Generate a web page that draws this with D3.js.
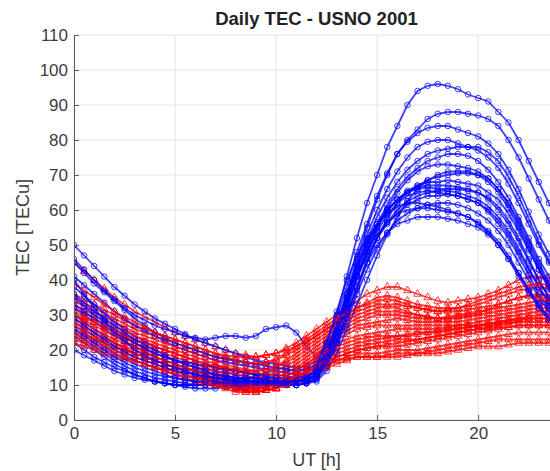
<!DOCTYPE html>
<html>
<head>
<meta charset="utf-8">
<script src="https://cdn.jsdelivr.net/npm/d3@7/dist/d3.min.js"></script>
<style>
body { margin: 0; background: #fff; }
svg { display: block; font-family: "Liberation Sans", Arial, sans-serif; }
</style>
</head>
<body>
<svg id="chart" width="550" height="471"></svg>
<script>
// UT sampling (hours)
let ut = [0,0.5,1,1.5,2,2.5,3,3.5,4,4.5,5,5.5,6,6.5,7,7.5,8,8.5,9,9.5,10,10.5,11,11.5,12,12.5,13,13.5,14,14.5,15,15.5,16,16.5,17,17.5,18,18.5,19,19.5,20,20.5,21,21.5,22,22.5,23,23.5,24];
let xTicks = [0, 5, 10, 15, 20];
let yTicks = [0, 10, 20, 30, 40, 50, 60, 70, 80, 90, 100, 110];

// blue days
let blue01 = [50,47,44,41,38,35.5,33,31,29,27.5,26,24.5,23,22,21,20,19,18,17,16.5,16,15.5,15,15.5,17,23,30,41,52,62,70,78,84,90,94,95.5,96,95.5,94.5,93,92,91,88,85,80,74,68,62,56];
let blue02 = [46,43,40,37,34.5,32,30,28.5,27,26,25,24,23.5,23,23.5,24,24,23.5,24,26,26.5,27,25,21,18,21,27,36,46,55,63,70,76,80,83,86,87.5,88,88,87.5,87,86,84,80,75,69,63,57,51];
let blue03 = [41,38.5,36,33.5,31,29,27,25.5,24,22.5,21,20,19,18,17,16.5,16,15.5,15,14.5,14,13.5,13,13.5,15,20,27,36,45,53,60,66,71,75,78,79.5,80,80,79,78,77,75,72,67.5,62,56,50,45,40];
let blue04 = [38,35.5,33,30.5,28,26,24,22.5,21,20,19,18,17,16,15,14.5,14,13.5,13,13,13,12.5,12,12.5,14,19,26,34,43,50,56,61.5,66,69.5,72,74,75,76,76,75.5,74,71.5,68,63.5,58,52,46,41,36];
let blue05 = [35,32.5,30,28,26,24,22,20.5,19,18,17,16,15,14.5,14,13.5,13,12.5,12,12,12,11.5,11,11.5,13,18,25,33,41,49,55,59.5,63,65.5,67,68,68,68.5,68,67.5,67,65,63,59,54,48.5,43,38,33];
let blue06 = [32,30,28,26,24,22.5,21,19.5,18,17,16,15,14,13.5,13,12.5,12,12,12,11.5,11,11,11,11.5,13.5,19,27,36,44,51,56,60,63,65,66,66.5,66,66,66,65.5,65,63.5,61,57,52,46,40,35,31];
let blue07 = [30,28,26,24,22,20.5,19,18,17,16,15,14.5,14,13.5,13,12.5,12,12,12,11.5,11,11,11,11,12.5,17,24,32,41,48,54,58.5,62,64,65,65.5,65,64.5,64,63,62,60,57,53,48,43,38,34,30];
let blue08 = [28,26,24,22,20,18.5,17,16,15,14,13,12.5,12,12,12,11.5,11,11,11,11,11,10.5,10,10.5,12,16,22,30,38,46,52,56.5,60,62.5,64,65,65.5,65.5,65,64,63,61,58,54,49,43.5,38,33,29];
let blue09 = [27,25,23,21,19,17.5,16,15,14,13,12,11.5,11,10.5,10,10,10,10,10,10,10,10,10,10.5,11.5,15,21,28,36,43,49,53.5,57,59,60.5,61.5,62,62,61.5,60.5,59,57,54,50,45,40,35,31,27];
let blue10 = [25,23,21,19,17,15.5,14,13,12,11.5,11,10.5,10,10,10,9.5,9.5,9.5,10,10,10,10,10,10.5,12,16,22,30,38,45,50,53.5,56,57,58,58,58,57.5,57,56,55,53,50,46,42,37.5,33,29,26];
let blue11 = [24,22,20,18,16,14.5,13,12,11,10.5,10,9.5,9,9,9,9.5,10,10,10,10,10,10,10,11,13,18,25,33,41,47,52,56,59,61.5,63,64,64,64.5,64,63,62,59.5,56,52,47,41.5,36,32,28];
let blue12 = [22,20,18,16.5,15,14,13,12,11,10.5,10,10,10,10,10,9.5,9,9,9,9.5,10,10,10,10.5,11,14,19,26,33,40,47,53,58,62.5,66,68.5,70,71,71,71,70,68,65,60.5,55,49,43,37.5,32];
let blue13 = [45,42,39,36.5,34,31.5,29,27,25,23.5,22,21,20,19,18,17.5,17,16.5,16,15.5,15,14.5,14,14.5,16,22,29,38,48,56,64,70.5,76,79.5,82,83.5,84,84,83,82,81,79,76,71.5,66,59.5,53,47.5,42];
let blue14 = [33,31,29,27,25,23.5,22,20.5,19,18,17,16.5,16,15.5,15,14.5,14,13.5,13,12.5,12,12,12,12.5,14,19,26,35,44,51.5,58,63.5,68,71.5,74,76,77,77.5,78,78,78,76.5,74,69.5,64,57.5,51,45.5,40];
let blue15 = [20,18.5,17,15.5,14,13,12,11.5,11,10.5,10,10,10,10,10.5,11,11,11,11,10.5,10,10.5,11,12,14,20,27,35,42,48,53,56.5,59,60,60.5,60.5,60,59.5,59,58,56,53.5,50,46,41,36.5,32,28.5,25];
let blue16 = [36,33.5,31,29,27,25,23,21.5,20,18.5,17,16,15,14,13,12.5,12,11.5,11,11,11,11,11,11.5,13,18,25,34,43,50,56,60,63,65,66.5,67,67,67,66.5,66,65,63,60,56,51,45.5,40,35,31];
let blue17 = [29,27,25,23,21,19.5,18,17,16,15,14,13.5,13,12.5,12,12,11.5,11.5,11,11,11,11,11,11.5,12.5,16,22,29,37,45,52,57.5,62,65,67,68.5,69.5,70,70.5,70.5,70,69,66,62,57,51,45,39,34];
let blue18 = [26,24,22,20,18,16.5,15,14,13,12.5,12,11.5,11,11,11,10.5,10.5,10.5,10.5,10.5,10.5,10.5,11,12,15,22,31,40,47,52,56,59,61,62,62,61.5,61,60,59,58,56.5,54,51,47,42,37,33,29,26];
let blue19 = [40,36,32,28.5,25,22.5,20,18.5,17,16,15,14,13,12.5,12,11.5,11,11,11,11,11,11,11,11.5,13,17,23,31,40,48,55,60.5,65,68.5,71,72.5,73,73,72.5,72,71,69,66,61.5,56,50,44,38.5,34];

// red days
let red01 = [45,42.5,40,37.5,35,33,31,29.5,28,26.5,25,24,23,22,21,20,19,18.5,18,18.5,19,20.5,22,24,26,28,30,32,34,36,37,38,38,37,36,35,34,33.5,34,34.5,35,36,37,38.5,40,41,41,40.5,40];
let red02 = [36,34.5,33,31.5,30,28.5,27,26,25,24,23,22,21,20,19,18.5,18,18,18,18.5,19,20,21,22.5,24,26,28,30,32,33.5,35,35.5,35,34,33,32.5,32,32,32,32.5,33,34,35,36,37,37.5,38,37.5,37];
let red03 = [35,33.5,32,30.5,29,27.5,26,25,24,23,22,21,20,19,18,17.5,17,16.5,16,16.5,17,18.5,20,22,24,26,28,29.5,31,32,33,33,33,32.5,32,31.5,31,31,31,31.5,32,32.5,33,34,35,35.5,36,35.5,35];
let red04 = [34,32.5,31,29.5,28,26.5,25,24,23,22,21,20,19,18,17,16,15,14.5,14,14.5,15,16.5,18,20,22,24,26,27.5,29,30,31,31,31,30.5,30,29.5,29,29.5,30,30.5,31,31.5,32,32.5,33,33.5,34,34,34];
let red05 = [33,31.5,30,28.5,27,25.5,24,23,22,21,20,19,18,17,16,15,14,13.5,13,13.5,14,15.5,17,19,21,23,25,26.5,28,29,30,30,30,29.5,29,29,29,29,29,29.5,30,30.5,31,31.5,32,32.5,33,33,33];
let red06 = [32,30.5,29,27.5,26,24.5,23,22,21,20,19,18,17,16,15,14,13,12.5,12,12.5,13,14.5,16,18,20,22,24,25.5,27,27.5,28,28.5,29,28.5,28,28,28,28,28,28.5,29,29.5,30,30.5,31,31.5,32,32,32];
let red07 = [31,29.5,28,26.5,25,23.5,22,21,20,19,18,17,16,15,14,13,12,11.5,11,11.5,12,13.5,15,17,19,21,23,24.5,26,26.5,27,27,27,27,27,27,27,27,27,27.5,28,28.5,29,29.5,30,30.5,31,31,31];
let red08 = [30,28.5,27,25.5,24,22.5,21,20,19,18,17,16,15,14,13,12,11,10.5,10,10.5,11,12.5,14,16,18,20,22,23,24,24.5,25,25.5,26,26,26,26,26,26.5,27,27,27,27.5,28,28.5,29,29.5,30,30,30];
let red09 = [29,27.5,26,24.5,23,22,21,19.5,18,17,16,15,14,13,12,11,10,9.5,9,9.5,10,11.5,13,15,17,18.5,20,21,22,22.5,23,23.5,24,24.5,25,25,25,25.5,26,26.5,27,27.5,28,28.5,29,29,29,29,29];
let red10 = [28,26.5,25,23.5,22,21,20,19,18,17,16,15,14,13,12,11,10,9,9,9,9,10.5,12,14,16,17.5,19,20,21,21.5,22,22.5,23,23,23,23.5,24,24.5,25,25.5,26,26.5,27,27.5,28,28,28,28,28];
let red11 = [27,25.5,24,23,22,20.5,19,18,17,16,15,14,13,12,11,10,9,8.5,8,8.5,9,10.5,12,13.5,15,16.5,18,19,20,20.5,21,21,21,21.5,22,22.5,23,23.5,24,24.5,25,25.5,26,26.5,27,27,27,27,27];
let red12 = [26,24.5,23,22,21,20,19,18,17,16,15,14,13,12,11,10,9,8,8,8.5,9,10,11,12.5,14,15.5,17,18,19,19,19,19.5,20,20,20,20.5,21,21.5,22,22.5,23,23.5,24,24.5,25,25,25,25,25];
let red13 = [24,23,22,21,20,19,18,17,16,15,14,13,12,11,10,9,8,8,8,8.5,9,10,11,12.5,14,15,16,17,18,18,18,18.5,19,19,19,19.5,20,20.5,21,21.5,22,22.5,23,23,23,23,23,23,23];
let red14 = [22,21,20,19,18,17.5,17,16,15,14.5,14,13,12,11.5,11,10,9,9,9,9.5,10,11,12,13.5,15,16,17,17.5,18,18,18,18,18,18.5,19,19,19,19.5,20,20.5,21,21,21,21.5,22,22,22,22,22];
let red15 = [30,29,28,26.5,25,24,23,22,21,20,19,18,17,16,15.5,15,14.5,14,14,14.5,15.5,17,19,21,23,25,27,28.5,30,31,32,32.5,32,31,30,29.5,29,29,29.5,30,30.5,31.5,33,34,35,35.5,35,34.5,34];
let red16 = [25,24,23,22,21,20,19,18,17,16,15,14,13,12,11.5,11,10.5,10,10,10.5,11,12.5,14,16,18,19.5,21,22,23,23.5,24,24,24,24,24.5,25,25.5,26,26,26.5,27,27,27.5,28,28.5,29,29,29,29];
let red17 = [39,37,35,33,31,29.5,28,26.5,25,24,23,22,21,20,19,18,17,16.5,16,16.5,17.5,19,21,23,25,27,29,30.5,32,33,34,34.5,34,33,32,31.5,31,31.5,32,33,34,35,36,37,38,38.5,39,38.5,38];
let red18 = [23,22,21,20,19,18,17,16,15,14,13,12,11,10.5,10,9.5,9,9,9,9.5,10,11,12.5,14,15.5,17,18,19,20,20.5,21,21.5,22,22.5,23,23.5,24,24.5,25,25.5,26,26,26.5,26.5,27,27,27,27,27];

let redSeries = [red01, red02, red03, red04, red05, red06, red07, red08, red09, red10, red11, red12, red13, red14, red15, red16, red17, red18];
let blueSeries = [blue01, blue02, blue03, blue04, blue05, blue06, blue07, blue08, blue09, blue10, blue11, blue12, blue13, blue14, blue15, blue16, blue17, blue18, blue19];

window.addEventListener('DOMContentLoaded', (event) => {
    let svg = d3.select('#chart');
    let left = 74, top = 35, bottom = 420, right = 559;

    let x = d3.scaleLinear().domain([0, 24]).range([left, right]);
    let y = d3.scaleLinear().domain([0, 110]).range([bottom, top]);

    // grid
    svg.append('g')
        .selectAll('line')
        .data(yTicks)
        .join('line')
        .attr('x1', left).attr('x2', right)
        .attr('y1', d => y(d)).attr('y2', d => y(d))
        .attr('stroke', '#e3e3e3');
    svg.append('g')
        .selectAll('line')
        .data(xTicks)
        .join('line')
        .attr('x1', d => x(d)).attr('x2', d => x(d))
        .attr('y1', top).attr('y2', bottom)
        .attr('stroke', '#e3e3e3');

    svg.append('clipPath').attr('id', 'plotClip')
        .append('rect')
        .attr('x', left).attr('y', top - 4)
        .attr('width', right - left).attr('height', bottom - top + 4);

    let plot = svg.append('g').attr('clip-path', 'url(#plotClip)');
    let line = d3.line().x((d, i) => x(ut[i])).y(d => y(d));

    let drawDay = (values, colour, shape, size) => {
        let g = plot.append('g')
            .attr('fill', 'none')
            .attr('stroke', colour)
            .attr('stroke-opacity', 0.75);
        g.append('path')
            .attr('d', line(values))
            .attr('stroke-width', 1.8);
        g.selectAll('path.mark')
            .data(values)
            .join('path')
            .attr('class', 'mark')
            .attr('transform', (d, i) => `translate(${x(ut[i])},${y(d)})`)
            .attr('d', d3.symbol(shape, size))
            .attr('stroke-width', 1);
    };

    // days plotted in turn, red then blue
    let n = Math.max(redSeries.length, blueSeries.length);
    for (let i = 0; i < n; i++) {
        if (redSeries[i]) drawDay(redSeries[i], '#ff0000', d3.symbolTriangle, 26);
        if (blueSeries[i]) drawDay(blueSeries[i], '#0000ff', d3.symbolCircle, 24);
    }

    // axes
    let xAxis = svg.append('g')
        .attr('transform', `translate(0,${bottom})`)
        .call(d3.axisBottom(x).tickValues(xTicks).tickSizeInner(-5).tickSizeOuter(0).tickPadding(7));
    let yAxis = svg.append('g')
        .attr('transform', `translate(${left},0)`)
        .call(d3.axisLeft(y).tickValues(yTicks).tickSizeInner(-5).tickSizeOuter(0).tickPadding(6));

    [xAxis, yAxis].forEach(a => {
        a.select('.domain').attr('stroke', '#5a5a5a');
        a.selectAll('.tick line').attr('stroke', '#5a5a5a');
        a.selectAll('.tick text')
            .attr('fill', '#3c3c3c')
            .style('font-size', '17px');
    });

    svg.append('text')
        .attr('x', (left + right) / 2)
        .attr('y', 25)
        .attr('text-anchor', 'middle')
        .style('font-size', '18.5px')
        .style('font-weight', 'bold')
        .attr('fill', '#222')
        .text('Daily TEC - USNO 2001');

    svg.append('text')
        .attr('x', (left + right) / 2)
        .attr('y', 466)
        .attr('text-anchor', 'middle')
        .style('font-size', '18px')
        .attr('fill', '#3c3c3c')
        .text('UT [h]');

    svg.append('text')
        .attr('transform', `translate(29,${(top + bottom) / 2}) rotate(-90)`)
        .attr('text-anchor', 'middle')
        .style('font-size', '18px')
        .attr('fill', '#3c3c3c')
        .text('TEC [TECu]');
});
</script>
</body>
</html>
